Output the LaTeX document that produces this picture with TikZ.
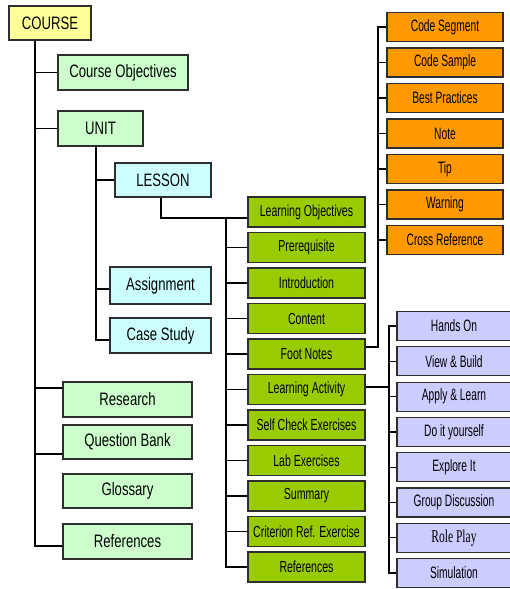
\documentclass[tikz,border=0pt]{standalone}
\usepackage{fontspec}
\setmainfont{Liberation Sans}
\newfontfamily\wideface[FakeStretch=0.73]{Liberation Sans}
\newfontfamily\midface[FakeStretch=0.66]{Liberation Sans}
\newfontfamily\slimface[FakeStretch=0.62]{Liberation Sans}
\newfontfamily\slimserif[FakeStretch=0.64]{Liberation Serif}
\usetikzlibrary{calc}

\definecolor{boxline}{HTML}{2E2E2E}
\definecolor{paleyellow}{HTML}{FFFF99}
\definecolor{palegreen}{HTML}{CCFFCC}
\definecolor{palecyan}{HTML}{CCFFFF}
\definecolor{leafgreen}{HTML}{99CC00}
\definecolor{amber}{HTML}{FF9900}
\definecolor{lavender}{HTML}{CCCCFF}

\begin{document}
\begin{tikzpicture}[x=1pt,y=-1pt,
  box/.style={draw=boxline, line width=1.2pt, rectangle, inner sep=0pt, align=center},
  rootbox/.style={box, fill=paleyellow, minimum width=82pt, minimum height=34pt,
    font=\wideface\fontsize{18}{21}\selectfont},
  mainbox/.style={box, fill=palegreen, minimum height=35pt,
    font=\wideface\fontsize{18}{21}\selectfont},
  lessonbox/.style={box, fill=palecyan, minimum height=35pt,
    font=\wideface\fontsize{18}{21}\selectfont},
  partbox/.style={box, fill=leafgreen, minimum width=117pt, minimum height=30pt,
    font=\midface\fontsize{16}{19}\selectfont},
  notebox/.style={box, fill=amber, minimum width=116pt, minimum height=29pt,
    font=\slimface\fontsize{16.5}{19}\selectfont},
  actbox/.style={box, fill=lavender, minimum width=114pt, minimum height=29pt,
    font=\slimface\fontsize{16.5}{19}\selectfont},
  link/.style={draw=black, line width=1.1pt}]

\useasboundingbox (0,0) rectangle (509,589);

% ---- course level ----
\node[rootbox] (course) at (50,23) {COURSE};
\node[mainbox, minimum width=130pt] (objectives) at (123,72.5) {Course Objectives};
\node[mainbox, minimum width=85pt] (unit) at (100.5,128.5) {UNIT};
\node[mainbox, minimum width=129pt] (research) at (127.5,399.5) {Research};
\node[mainbox, minimum width=129pt, minimum height=34pt] (qbank) at (127.5,442) {Question Bank};
\node[mainbox, minimum width=129pt, minimum height=34pt] (glossary) at (127.5,491) {Glossary};
\node[mainbox, minimum width=129pt] (references) at (127.5,541.5) {References};

% ---- unit level ----
\node[lessonbox, minimum width=96pt, minimum height=34pt] (lesson) at (163,180) {LESSON};
\node[lessonbox, minimum width=101pt, minimum height=37pt] (assignment) at (160.5,285.5) {Assignment};
\node[lessonbox, minimum width=101pt] (casestudy) at (160.5,335.5) {Case Study};

% ---- lesson parts ----
\node[partbox] (lobj)      at (306.5,212)   {Learning Objectives};
\node[partbox] (prereq)    at (306.5,247.5) {Prerequisite};
\node[partbox] (intro)     at (306.5,283)   {Introduction};
\node[partbox] (content)   at (306.5,318.5) {Content};
\node[partbox] (footnotes) at (306.5,354)   {Foot Notes};
\node[partbox] (activity)  at (306.5,389.5) {Learning Activity};
\node[partbox] (selfcheck) at (306.5,425)   {Self Check Exercises};
\node[partbox] (lab)       at (306.5,460.5) {Lab Exercises};
\node[partbox] (summary)   at (306.5,496)   {Summary};
\node[partbox] (criterion) at (306.5,531.5) {Criterion Ref. Exercise};
\node[partbox] (lrefs)     at (306.5,567)   {References};

% ---- foot note kinds ----
\node[notebox] (cseg)     at (445,27)    {Code Segment};
\node[notebox] (csample)  at (445,62.5)  {Code Sample};
\node[notebox] (best)     at (445,98)    {Best Practices};
\node[notebox] (note)     at (445,133.5) {Note};
\node[notebox] (tip)      at (445,169)   {Tip};
\node[notebox] (warn)     at (445,204.5) {Warning};
\node[notebox] (xref)     at (445,240)   {Cross Reference};

% ---- activity kinds ----
\node[actbox] (hands)   at (454,326)   {Hands On};
\node[actbox] (viewb)   at (454,361.3) {View \& Build};
\node[actbox] (apply)   at (454,396.6) {Apply \& Learn};
\node[actbox] (diy)     at (454,432)   {Do it yourself};
\node[actbox] (explore) at (454,467.2) {Explore It};
\node[actbox] (group)   at (454,502.5) {Group Discussion};
\node[actbox, font=\slimserif\fontsize{18}{21}\selectfont] (roleplay) at (454,537.8) {Role Play};
\node[actbox] (sim)     at (454,573)   {Simulation};

% ---- course trunk ----
\coordinate (cT) at (35,0);
\coordinate (rsj) at ($(research.west)+(0,-11.5)$);
\coordinate (qbj) at ($(qbank.west)+(0,12)$);
\coordinate (rfj) at ($(references.west)+(0,4.5)$);
\draw[link] (course.south -| cT) -- (rfj -| cT) -- (rfj);
\draw[link] (objectives.west -| cT) -- (objectives.west);
\draw[link] (unit.west -| cT) -- (unit.west);
\draw[link] (rsj -| cT) -- (rsj);
\draw[link] (qbj -| cT) -- (qbj);

% ---- unit trunk ----
\coordinate (uT) at (96,0);
\coordinate (asj) at ($(assignment.west)+(0,3.5)$);
\coordinate (csj) at ($(casestudy.west)+(0,4.5)$);
\draw[link] (unit.south -| uT) -- (csj -| uT) -- (csj);
\draw[link] (lesson.west -| uT) -- (lesson.west);
\draw[link] (asj -| uT) -- (asj);

% ---- lesson trunk ----
\coordinate (gT) at (226,0);
\coordinate (loj) at ($(lobj.west)+(0,6)$);
\draw[link] ($(lesson.south)+(-2,0)$) |- (loj);
\draw[link] (loj -| gT) -- (lrefs.west -| gT) -- (lrefs.west);
\foreach \n in {prereq,intro,content,footnotes,activity,selfcheck,lab,summary,criterion}
  \draw[link] (\n.west -| gT) -- (\n.west);

% ---- foot notes trunk ----
\coordinate (oT) at (378,0);
\coordinate (fnj) at ($(footnotes.east)+(0,-7)$);
\draw[link] (fnj) -| (oT |- cseg.west) -- (cseg.west);
\foreach \n in {csample,best,note,tip,warn,xref}
  \draw[link] (\n.west -| oT) -- (\n.west);

% ---- learning activity trunk ----
\coordinate (pT) at (389,0);
\coordinate (laj) at ($(activity.east)+(0,-2.5)$);
\draw[link] (hands.west) -- (hands.west -| pT) -- (sim.west -| pT) -- (sim.west);
\draw[link] (laj) -- (laj -| pT);
\foreach \n in {viewb,apply,diy,explore,group,roleplay}
  \draw[link] (\n.west -| pT) -- (\n.west);

\end{tikzpicture}
\end{document}
